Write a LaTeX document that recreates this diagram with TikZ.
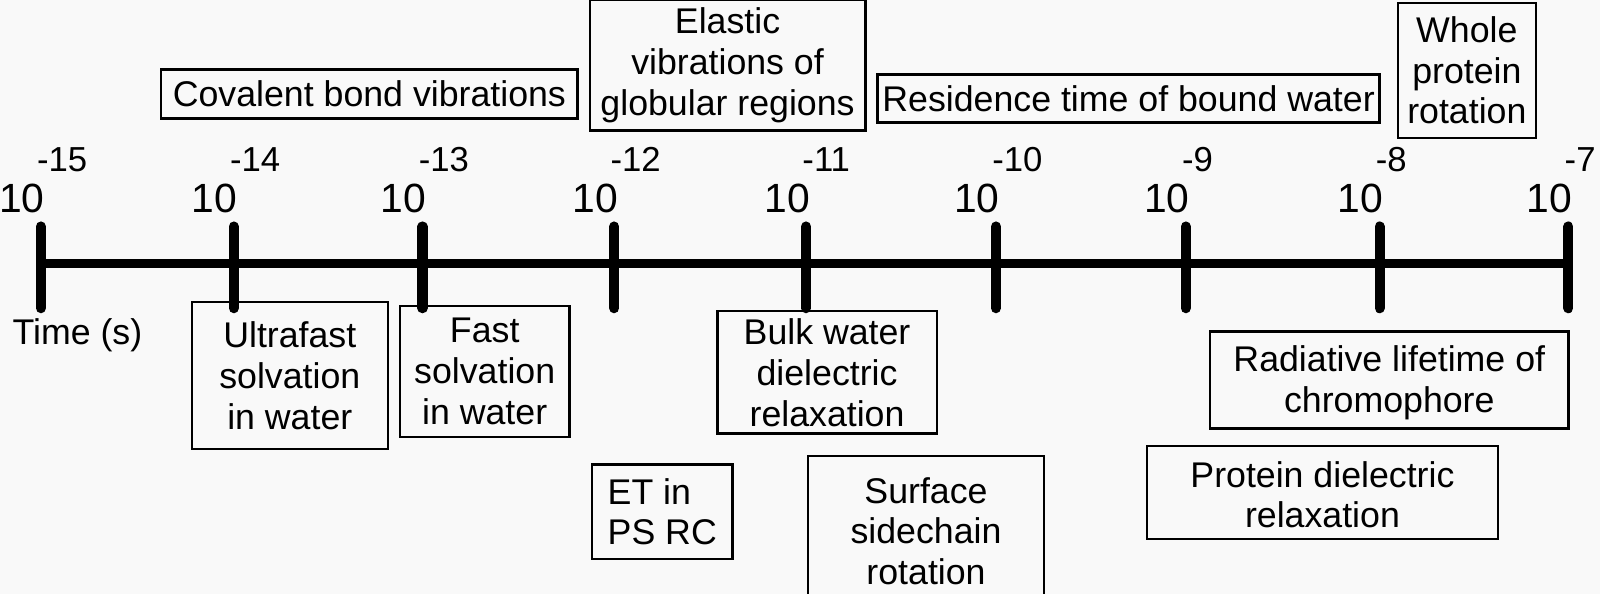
\documentclass[tikz,border=0pt]{standalone}
\usepackage{fontspec}
\setmainfont{Liberation Sans}
\definecolor{bgc}{RGB}{249,249,249}
\begin{document}
\begin{tikzpicture}[x=0.5pt,y=-0.5pt,
  lbl/.style={font=\fontsize{17.5pt}{20pt}\selectfont, align=center, inner sep=0pt},
  evbox/.style={draw, line width=1.2pt, inner sep=0pt, font=\fontsize{17.5pt}{20pt}\selectfont, align=center},
  ten/.style={font=\fontsize{20pt}{24pt}\selectfont, inner sep=0pt, anchor=base east},
  expo/.style={font=\fontsize{17pt}{20pt}\selectfont, inner sep=0pt, anchor=base west},
  tickline/.style={line width=5pt, line cap=round},
  axisline/.style={line width=4.5pt}]
\useasboundingbox (0,0) rectangle (1568,582);
\fill[bgc] (0,0) rectangle (1568,582);

% axis
\coordinate (a0) at (40,258);
\coordinate (a8) at (1537,258);
\draw[axisline] (a0) -- (a8);

% ticks and labels
\foreach \x/\e [count=\i] in {40/-15,229/-14,414/-13,602/-12,790/-11,976/-10,1162/-9,1352/-8,1537/-7}{
  \coordinate (t\i a) at (\x,222);
  \coordinate (t\i b) at (\x,302);
  \draw[tickline] (t\i a) -- (t\i b);
  \node[ten] (ten\i) at (\x+4,208) {10};
  \node[expo] (ex\i) at (\x-4,168) {\e};
}

\node[lbl, anchor=base west] (time) at (12,338) {Time (s)};

% top boxes
\node[evbox, minimum width=204pt, minimum height=24pt] (cov) at (362,92) {Covalent bond vibrations};
\node[evbox, minimum width=135pt, minimum height=64pt] (ela) at (713,64) {Elastic\\vibrations of\\globular regions};
\node[evbox, minimum width=246pt, minimum height=23.5pt] (res) at (1106,96.5) {Residence time of bound water};
\node[evbox, minimum width=67.5pt, minimum height=66pt] (who) at (1437.5,69) {Whole\\protein\\rotation};

% bottom boxes
\node[evbox, minimum width=96pt, minimum height=72pt] (ult) at (284,368) {Ultrafast\\solvation\\in water};
\node[evbox, minimum width=83pt, minimum height=64pt] (fas) at (475,364) {Fast\\solvation\\in water};
\node[evbox, minimum width=107.5pt, minimum height=60pt] (blk) at (810.5,365) {Bulk water\\dielectric\\relaxation};
\node[evbox, minimum width=69pt, minimum height=46.5pt, align=left] (et) at (649,501.5) {ET in\\PS RC};
\node[evbox, minimum width=115.5pt, minimum height=73.5pt] (sur) at (907.5,520.5) {Surface\\sidechain\\rotation};
\node[evbox, minimum width=175.5pt, minimum height=47.5pt] (rad) at (1361.5,372.5) {\\[-5pt]Radiative lifetime of\\chromophore};
\node[evbox, minimum width=172pt, minimum height=45.5pt] (pro) at (1296,482.5) {\\[-5pt]Protein dielectric\\relaxation};
\end{tikzpicture}
\end{document}
